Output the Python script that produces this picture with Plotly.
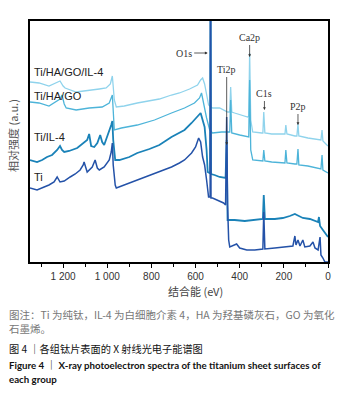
import plotly.graph_objects as go

# ---------------- data (binding energy eV, relative intensity a.u.) ----------------
E_hagoil = [1350, 1309, 1264, 1232, 1214, 1200, 1191, 1141, 1095, 1036, 1005, 986, 977, 968, 959,
            923, 864, 809, 764, 709, 673, 627, 591, 577, 568, 559, 550, 541, 523, 491, 455, 445,
            441, 436, 423, 391, 364, 359, 355, 350, 341, 300, 295, 291, 286, 255, 195, 191, 186,
            150, 141, 136, 132, 91, 59, 32, 27, 23, 5, 0]
I_hagoil = [180, 179, 176, 179, 181, 176, 174, 170, 171, 173, 174, 178, 186, 162, 155,
            156, 159, 161, 163, 167, 169, 173, 177, 182, 184, 178, 167, 157, 154, 154, 150, 150,
            175, 150, 149, 147, 145, 146, 209, 142, 130, 129, 129, 150, 129, 128, 128, 137, 128,
            126, 126, 138, 126, 124, 123, 122, 132, 121, 117, 116]

E_hago = [1350, 1309, 1264, 1232, 1214, 1205, 1195, 1186, 1141, 1082, 1023, 991, 977, 968, 936,
          864, 786, 709, 650, 605, 582, 573, 564, 550, 536, 523, 482, 445, 441, 436, 400, 364,
          359, 355, 350, 341, 300, 295, 291, 286, 255, 195, 191, 186, 150, 141, 136, 132, 91,
          59, 32, 27, 23, 0]
I_hago = [160, 159, 156, 160, 163, 167, 158, 154, 152, 154, 155, 159, 167, 132, 134,
          137, 142, 149, 154, 159, 164, 169, 159, 144, 132, 129, 130, 130, 162, 129, 127, 125,
          125, 182, 112, 102, 101, 101, 112, 101, 100, 99, 112, 99, 98, 98, 113, 97, 96,
          94, 93, 107, 92, 89]

E_il4 = [1350, 1318, 1295, 1273, 1250, 1227, 1214, 1205, 1195, 1173, 1136, 1105, 1091, 1082, 1073,
         1059, 1045, 1032, 1023, 1014, 1000, 991, 982, 977, 973, 964, 945, 900, 864, 809, 764,
         709, 673, 650, 618, 600, 586, 577, 568, 559, 550, 545, 536, 534, 532, 530, 514, 491,
         464, 459, 455, 423, 377, 332, 295, 291, 286, 241, 205, 173, 150, 141, 114, 82, 59,
         45, 41, 36, 23, 0]
I_il4 = [102, 100, 102, 105, 107, 112, 116, 112, 110, 111, 114, 119, 122, 128, 116,
         115, 119, 127, 120, 117, 125, 132, 137, 141, 122, 102, 102, 105, 109, 113, 117,
         125, 129, 132, 139, 143, 146, 149, 142, 135, 112, 90, 89, 89, 300, 88, 87, 85,
         84, 122, 42, 42, 41, 42, 43, 67, 43, 43, 44, 46, 48, 47, 44, 43, 41,
         40, 45, 36, 32, 25]

E_ti = [1350, 1318, 1286, 1264, 1241, 1227, 1214, 1195, 1168, 1145, 1123, 1109, 1105, 1095, 1091,
        1068, 1055, 1045, 1036, 1014, 991, 982, 977, 973, 964, 959, 923, 864, 809, 764, 709,
        673, 650, 618, 600, 586, 577, 568, 559, 550, 541, 536, 534, 532, 530, 523, 491, 473,
        464, 459, 455, 450, 445, 432, 414, 400, 368, 332, 295, 291, 286, 241, 195, 159, 150,
        145, 136, 127, 114, 105, 82, 68, 59, 45, 36, 32, 23, 14, 0]
I_ti = [74, 72, 75, 77, 80, 85, 80, 81, 85, 88, 92, 97, 100, 92, 90,
        95, 102, 94, 92, 95, 102, 110, 119, 97, 77, 74, 77, 82, 86, 90, 95,
        99, 102, 109, 115, 124, 120, 105, 97, 82, 65, 65, 65, 320, 64, 64, 61, 59,
        57, 145, 57, 22, 15, 16, 18, 14, 12, 12, 13, 50, 13, 14, 15, 16, 26,
        17, 22, 16, 22, 15, 16, 20, 14, 12, 25, 7, 4, 0, 0]

series_names = ["Ti/HA/GO/IL-4", "Ti/HA/GO", "Ti/IL-4", "Ti"]
series_E = [E_hagoil, E_hago, E_il4, E_ti]
series_I = [I_hagoil, I_hago, I_il4, I_ti]
series_colors = ["#8fd3ec", "#4db4d9", "#1a82b8", "#2452a8"]
series_widths = [1.3, 1.3, 1.8, 1.5]
label_y = [190, 166, 125, 85]

x_tickvals = [1200, 1000, 800, 600, 400, 200, 0]
x_ticktext = ["1 200", "1 000", "800", "600", "400", "200", "0"]
x_minor = [1300, 1100, 900, 700, 500, 300, 100]

peaks = [("O1s", 545, 209, -24, 0), ("Ti2p", 459, 117, 0, -76),
         ("Ca2p", 355, 205, 0, -20), ("C1s", 288, 152, 0, -17), ("P2p", 136, 137, 0, -19)]

# ---------------- figure ----------------
fig = go.Figure()
for name, e, i, c, w in zip(series_names, series_E, series_I, series_colors, series_widths):
    fig.add_trace(go.Scatter(x=e, y=i, mode="lines", name=name,
                             line=dict(color=c, width=w), showlegend=False))

W, H = 350, 395
L, R, T, B = 30, 22, 21, 133

def pxx(px):
    return (px - L) / (W - L - R)

def pyy(py):
    return (H - B - py) / (H - T - B)

fig.update_layout(
    width=W, height=H,
    margin=dict(l=L, r=R, t=T, b=B, pad=0),
    paper_bgcolor="white", plot_bgcolor="white",
    font=dict(family="Liberation Sans, Noto Sans CJK SC", size=10, color="#333"),
    xaxis=dict(range=[1350, 0], showgrid=False, zeroline=False,
               showline=True, linecolor="black", linewidth=1.5, mirror=True,
               tickmode="array", tickvals=x_tickvals, ticktext=x_ticktext,
               ticks="outside", ticklen=4, tickwidth=1, tickcolor="black",
               minor=dict(tickmode="array", tickvals=x_minor, ticks="outside",
                          ticklen=3, tickwidth=1, tickcolor="black"),
               tickfont=dict(size=10, color="#333")),
    yaxis=dict(range=[0, 241], showgrid=False, zeroline=False, showticklabels=False,
               ticks="", showline=True, linecolor="black", linewidth=1.5, mirror=True),
)

ann = []
for name, y in zip(series_names, label_y):
    ann.append(dict(x=1343, y=y, xref="x", yref="y", text=name, showarrow=False,
                    xanchor="left", yanchor="middle",
                    font=dict(family="Liberation Sans", size=11, color="#222")))
for txt, x, y, ax, ay in peaks:
    ann.append(dict(x=x, y=y, xref="x", yref="y", text=txt, showarrow=True,
                    ax=ax, ay=ay, arrowhead=2, arrowsize=0.7, arrowwidth=0.8,
                    arrowcolor="#333", standoff=0, startstandoff=1,
                    font=dict(family="Liberation Serif", size=10, color="#333")))

ann.append(dict(x=pxx(13), y=pyy(136), xref="paper", yref="paper", text="相对强度 (a.u.)",
                showarrow=False, textangle=-90, xanchor="center", yanchor="middle",
                font=dict(family="Noto Sans CJK SC", size=11, color="#555")))
ann.append(dict(x=pxx(195), y=pyy(291), xref="paper", yref="paper", text="结合能 (eV)",
                showarrow=False, xanchor="center", yanchor="middle",
                font=dict(family="Noto Sans CJK SC", size=11, color="#444")))

cap = [
    ("图注：Ti 为纯钛，IL-4 为白细胞介素 4，HA 为羟基磷灰石，GO 为氧化", 314, "#777", 10.5, "Noto Sans CJK SC"),
    ("石墨烯。", 328, "#777", 10.5, "Noto Sans CJK SC"),
    ("图 4 ｜各组钛片表面的 X 射线光电子能谱图", 348, "#111", 10.2, "Noto Sans CJK SC"),
    ("<b>Figure 4 ｜ X-ray photoelectron spectra of the titanium sheet surfaces of</b>", 365, "#111", 9.7, "Lato, Noto Sans CJK SC"),
    ("<b>each group</b>", 379, "#111", 9.7, "Lato, Noto Sans CJK SC"),
]
for txt, py, col, sz, fam in cap:
    ann.append(dict(x=pxx(7), y=pyy(py), xref="paper", yref="paper", text=txt,
                    showarrow=False, xanchor="left", yanchor="middle",
                    font=dict(family=fam, size=sz, color=col)))

fig.update_layout(annotations=ann)
fig.write_html("out.html", config={"displayModeBar": False},
               post_script="document.body.style.margin='0';document.body.style.overflow='hidden';")
